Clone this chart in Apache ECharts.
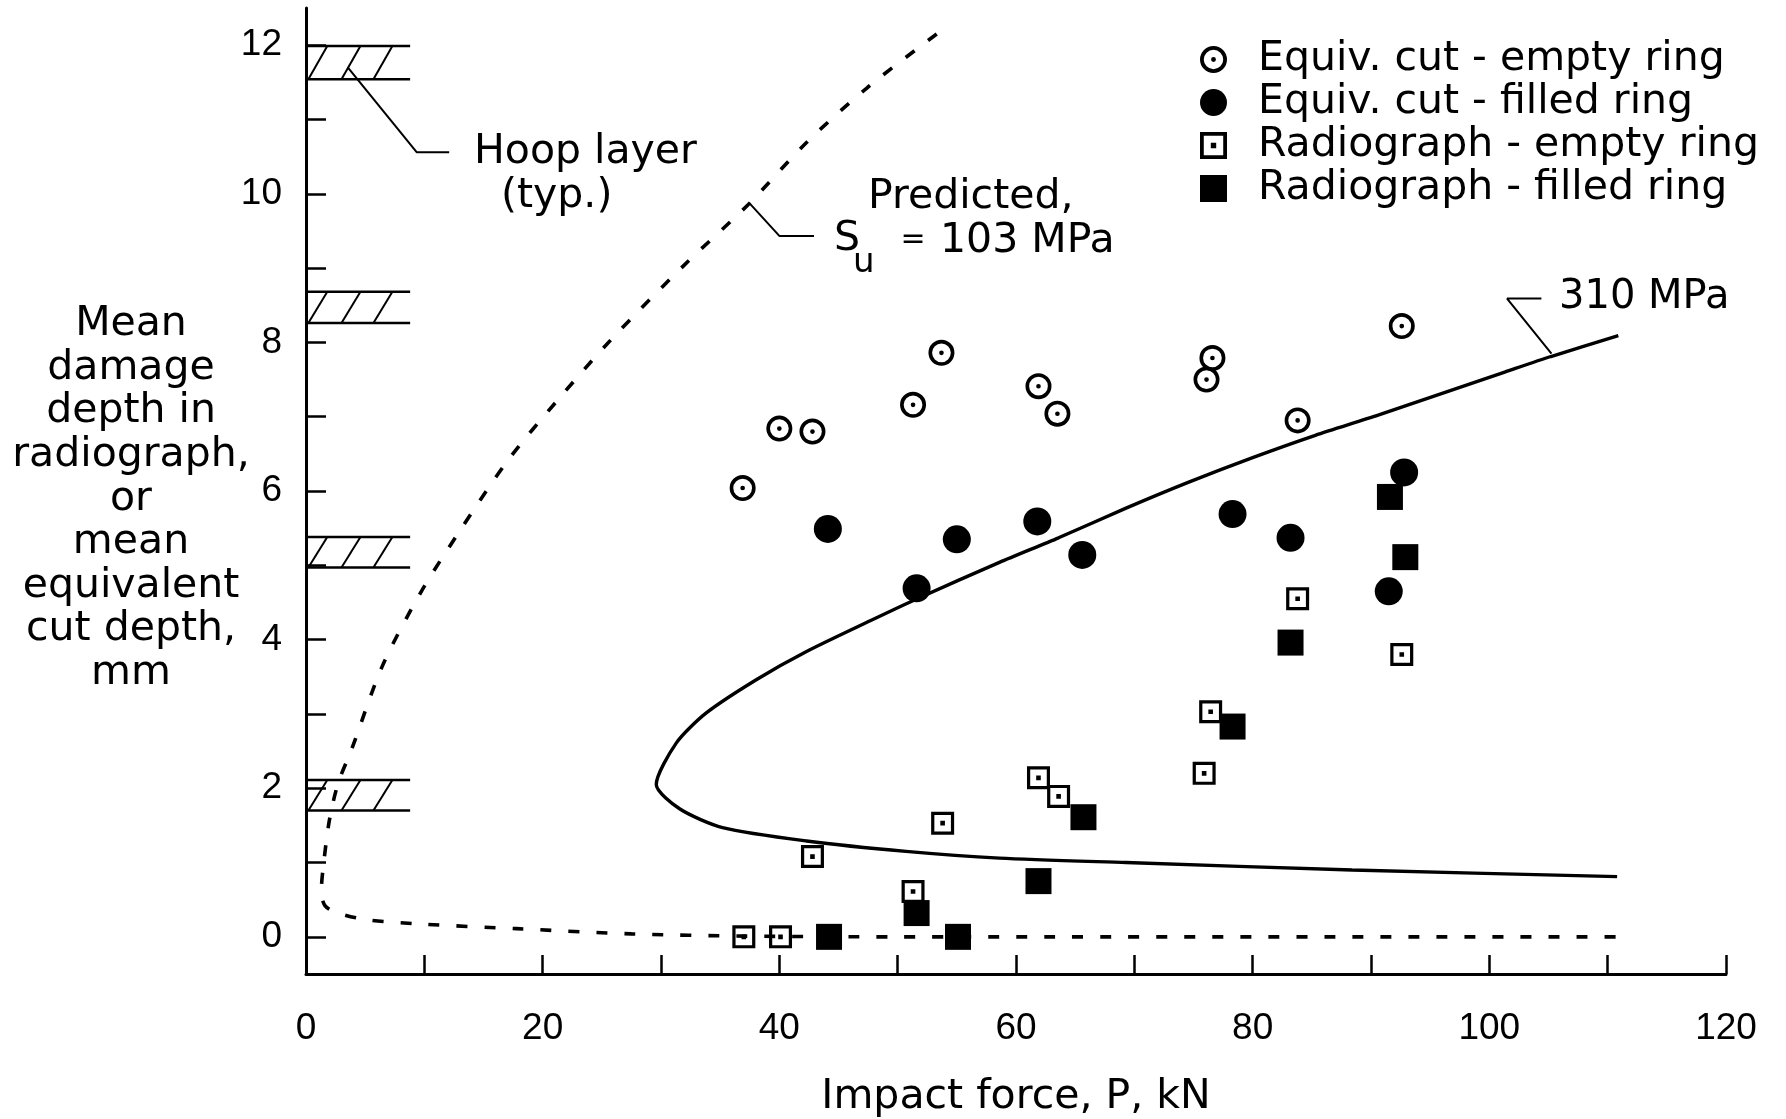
<!DOCTYPE html>
<html><head><meta charset="utf-8">
<script src="https://cdn.jsdelivr.net/npm/echarts@6/dist/echarts.min.js"></script>
<style>html,body{margin:0;padding:0;background:#fff}#c{width:1786px;height:1119px}</style>
</head><body><div id="c"></div>
<script>
// ---- tick values ----
const xTickValues = [0,10,20,30,40,50,60,70,80,90,100,110,120];
const xLabelValues = [0,20,40,60,80,100,120];
const yTickValues = [0,1,2,3,4,5,6,7,8,9,10,11,12];
const yLabelValues = [0,2,4,6,8,10,12];

// ---- measured data (impact force kN, depth mm) ----
const equivCutEmpty = [[36.9,6.04],[40.0,6.84],[42.8,6.80],[51.3,7.16],[53.7,7.86],[61.9,7.41],[63.5,7.04],[76.1,7.50],[76.6,7.79],[83.8,6.95],[92.6,8.22]];
const equivCutFilled = [[44.1,5.49],[51.6,4.69],[55.0,5.35],[61.8,5.59],[65.6,5.14],[78.3,5.69],[83.2,5.37],[92.8,6.25],[91.5,4.65]];
const radiographEmpty = [[37.0,0],[40.1,0],[42.8,1.08],[51.3,0.61],[53.8,1.53],[61.9,2.14],[63.6,1.89],[75.9,2.20],[76.45,3.03],[83.8,4.55],[92.6,3.80]];
const radiographFilled = [[44.2,0],[55.1,0],[51.6,0.32],[61.9,0.75],[65.7,1.61],[78.3,2.83],[83.2,3.96],[92.9,5.11],[91.6,5.92]];

// ---- predicted curves ----
const predicted310 = [[110.9,8.09],[105.2,7.81],[101.3,7.60],[90.6,7.02],[85.3,6.75],[80.0,6.45],[74.6,6.12],[69.3,5.77],[63.6,5.37],[58.6,5.04],[51.65,4.55],[47.9,4.27],[42.3,3.84],[38.05,3.46],[33.8,3.01],[31.3,2.61],[29.6,2.05],[31.6,1.72],[35.2,1.47],[42.3,1.29],[50.7,1.15],[58.6,1.06],[69.3,1.00],[88.4,0.90],[110.8,0.81]];
const predicted103 = [[53.3,12.15],[47.45,11.43],[42.3,10.69],[37.4,9.86],[31.9,9.03],[25.8,8.04],[21.3,7.23],[17.1,6.42],[12.9,5.44],[9.68,4.63],[6.44,3.64],[3.85,2.52],[2.72,2.07],[1.99,1.58],[1.5,1.0],[1.3,0.62],[1.6,0.42],[2.72,0.32],[5.15,0.23],[10.0,0.17],[17.8,0.11],[27.5,0.04],[37.2,0.01],[50,0],[111,0]];

// ---- hoop layers ----
const hoopLower = [1.70,4.97,8.26,11.54];
const hoopUpper = [2.11,5.38,8.68,11.99];
const hoopXEnd = 8.8;
const hatchStarts = [0.2,3.0,5.7];

// ---- leader lines ----
const leaderHoop = [[3.53,11.70],[9.35,10.56],[12.1,10.56]];
const leader103 = [[37.43,9.88],[40.02,9.43],[42.93,9.43]];
const leader310 = [[105.25,7.85],[101.5,8.59],[104.4,8.59]];

const ringPath = 'path://M0,50A50,50,0,1,0,100,50A50,50,0,1,0,0,50ZM14,50A36,36,0,1,1,86,50A36,36,0,1,1,14,50ZM41,50A9,9,0,1,0,59,50A9,9,0,1,0,41,50Z';
const squarePath = 'path://M0,0H100V100H0ZM14,14V86H86V14ZM40,40H60V60H40Z';
const solidSquarePath = 'path://M0,0H100V100H0Z';

const TXT = 'DejaVu Sans';
const NUM = 'Liberation Sans';

const chart = echarts.init(document.getElementById('c'), null, {renderer:'canvas'});

function leaderSeries(d){
  return {type:'line', data:d, symbol:'none', silent:true, z:3,
    lineStyle:{color:'#000', width:2}};
}

const option = {
  animation:false,
  backgroundColor:'#fff',
  grid:{left:306, right:60, top:8, bottom:145, containLabel:false, outerBoundsMode:'none'},
  xAxis:{
    type:'value', min:0, max:120,
    axisLine:{onZero:false, lineStyle:{color:'#000', width:3}},
    axisTick:{inside:true, length:19, customValues:xTickValues, lineStyle:{color:'#000', width:2.5}},
    axisLabel:{customValues:xLabelValues, margin:36, color:'#000', fontFamily:NUM, fontSize:37},
    splitLine:{show:false},
    name:'Impact force, P, kN', nameLocation:'middle', nameGap:103,
    nameTextStyle:{fontFamily:TXT, fontSize:41, color:'#000'}
  },
  yAxis:{
    type:'value', min:-0.5, max:12.5,
    axisLine:{show:true, onZero:false, lineStyle:{color:'#000', width:3}},
    axisTick:{show:true, inside:true, length:20, customValues:yTickValues, lineStyle:{color:'#000', width:2.5}},
    axisLabel:{customValues:yLabelValues, margin:24, color:'#000', fontFamily:NUM, fontSize:37, padding:[8,0,0,0]},
    splitLine:{show:false}
  },
  legend:{
    data:['Equiv. cut - empty ring','Equiv. cut - filled ring','Radiograph - empty ring','Radiograph - filled ring'],
    orient:'vertical', left:1195, top:34, itemWidth:79, itemHeight:27, itemGap:2,
    selectedMode:false, symbolKeepAspect:true,
    textStyle:{fontFamily:TXT, fontSize:41, color:'#000'}
  },
  graphic:[
    {type:'text', x:131, y:499, style:{text:'Mean\ndamage\ndepth in\nradiograph,\nor\nmean\nequivalent\ncut depth,\nmm', fontFamily:TXT, fontSize:41, lineHeight:43.6, fill:'#000', align:'center', verticalAlign:'middle'}},
    {type:'text', x:474, y:152, style:{text:'Hoop layer', fontFamily:TXT, fontSize:41, fill:'#000', align:'left', verticalAlign:'middle'}},
    {type:'text', x:501, y:196, style:{text:'(typ.)', fontFamily:TXT, fontSize:41, fill:'#000', align:'left', verticalAlign:'middle'}},
    {type:'text', x:868, y:197, style:{text:'Predicted,', fontFamily:TXT, fontSize:41, fill:'#000', align:'left', verticalAlign:'middle'}},
    {type:'text', x:834, y:239, style:{text:'S', fontFamily:TXT, fontSize:41, fill:'#000', align:'left', verticalAlign:'middle'}},
    {type:'text', x:853, y:263, style:{text:'u', fontFamily:TXT, fontSize:34, fill:'#000', align:'left', verticalAlign:'middle'}},
    {type:'text', x:913, y:240, style:{text:'=', fontFamily:TXT, fontSize:30, fill:'#000', align:'center', verticalAlign:'middle'}},
    {type:'text', x:940, y:241, style:{text:'103 MPa', fontFamily:TXT, fontSize:41, fill:'#000', align:'left', verticalAlign:'middle'}},
    {type:'text', x:1559, y:298, style:{text:'310 MPa', fontFamily:TXT, fontSize:40, fill:'#000', align:'left', verticalAlign:'middle'}}
  ],
  series:[
    {type:'custom', name:'hoop', silent:true, z:2,
      data:hoopLower.map((l,i)=>[0,l,hoopUpper[i]]),
      encode:{x:0, y:[1,2]},
      renderItem:function(params, api){
        const lo = api.value(1), hi = api.value(2);
        const st = {stroke:'#000', lineWidth:2.5};
        const a = api.coord([0,hi]), b = api.coord([hoopXEnd,hi]);
        const c = api.coord([0,lo]), d = api.coord([hoopXEnd,lo]);
        const children = [
          {type:'line', shape:{x1:a[0],y1:a[1],x2:b[0],y2:b[1]}, style:st},
          {type:'line', shape:{x1:c[0],y1:c[1],x2:d[0],y2:d[1]}, style:st}
        ];
        hatchStarts.forEach(function(s){
          const p = api.coord([s,lo]), q = api.coord([s+1.6,hi]);
          children.push({type:'line', shape:{x1:p[0],y1:p[1],x2:q[0],y2:q[1]}, style:{stroke:'#000', lineWidth:2}});
        });
        return {type:'group', children:children};
      }
    },
    {type:'line', name:'310 MPa', data:predicted310, symbol:'none', smooth:0.25, silent:true, z:3,
      lineStyle:{color:'#000', width:3.4}},
    {type:'line', name:'103 MPa', data:predicted103, symbol:'none', smooth:0.3, silent:true, z:3,
      lineStyle:{color:'#000', width:3.6, type:[11,17]}},
    leaderSeries(leaderHoop),
    leaderSeries(leader103),
    leaderSeries(leader310),
    {type:'scatter', name:'Equiv. cut - empty ring', data:equivCutEmpty, symbol:ringPath, symbolSize:26, z:5,
      itemStyle:{color:'#000', opacity:1}},
    {type:'scatter', name:'Equiv. cut - filled ring', data:equivCutFilled, symbol:'circle', symbolSize:28, z:5,
      itemStyle:{color:'#000', opacity:1}},
    {type:'scatter', name:'Radiograph - empty ring', data:radiographEmpty, symbol:squarePath, symbolSize:23, z:5,
      itemStyle:{color:'#000', opacity:1}},
    {type:'scatter', name:'Radiograph - filled ring', data:radiographFilled, symbol:solidSquarePath, symbolSize:26, z:5,
      itemStyle:{color:'#000', opacity:1}}
  ]
};
chart.setOption(option);
</script>
</body></html>
